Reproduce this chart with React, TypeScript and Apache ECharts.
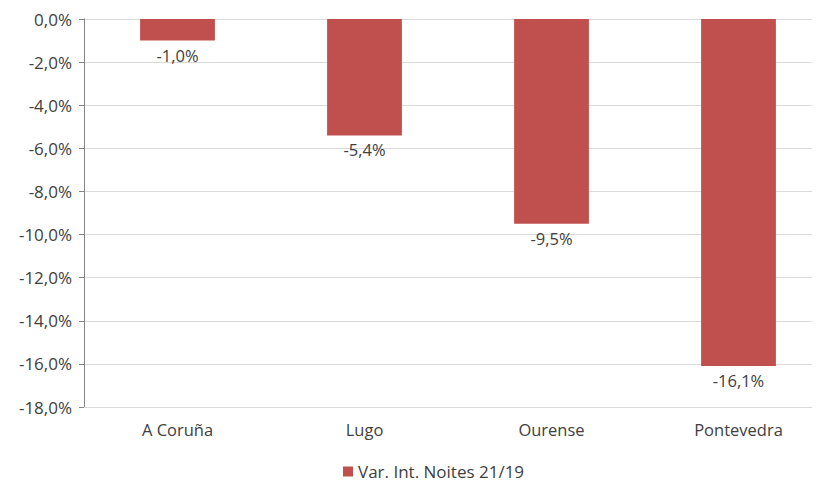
import React, { useEffect, useRef } from "react";
import * as echarts from "echarts";

const categories = ["A Coruña", "Lugo", "Ourense", "Pontevedra"];
const values = [-1.0, -5.4, -9.5, -16.1];
const seriesName = "Var. Int. Noites 21/19";

const fmt = (v: number) => v.toFixed(1).replace(".", ",") + "%";

export default function App() {
  const ref = useRef<HTMLDivElement>(null);
  useEffect(() => {
    if (!ref.current) return;
    const chart = echarts.init(ref.current, undefined, { renderer: "svg" });
    const font = "'Open Sans', 'Liberation Sans', sans-serif";
    chart.setOption({
      animation: false,
      textStyle: { fontFamily: font },
      grid: { left: 76, top: 11, right: 6, bottom: 78, outerBoundsMode: "none" },
      xAxis: {
        type: "category",
        data: categories,
        position: "bottom",
        axisLine: { onZero: false, lineStyle: { color: "#d9d9d9" } },
        axisTick: { show: false },
        axisLabel: { color: "#404040", fontSize: 16.5, margin: 14, fontFamily: font },
      },
      yAxis: {
        type: "value",
        min: -18,
        max: 0,
        interval: 2,
        axisLine: { show: true, lineStyle: { color: "#868686" } },
        axisTick: { show: true, length: 5, lineStyle: { color: "#868686" } },
        splitLine: { lineStyle: { color: "#d9d9d9" } },
        axisLabel: { color: "#404040", fontSize: 17, margin: 12, formatter: (v: number) => fmt(v), fontFamily: font },
      },
      legend: {
        bottom: 0,
        left: 330,
        itemWidth: 10,
        itemHeight: 10,
        itemGap: 6,
        icon: "rect",
        textStyle: { color: "#404040", fontSize: 17, fontFamily: font },
        data: [seriesName],
      },
      series: [
        {
          type: "bar",
          name: seriesName,
          data: values,
          barWidth: "40%",
          itemStyle: { color: "#c0504d" },
          label: {
            show: true,
            position: "bottom",
            distance: 6,
            color: "#404040",
            fontSize: 16.5,
            fontFamily: font,
            formatter: (p: any) => fmt(p.value),
          },
        },
      ],
    });
    return () => chart.dispose();
  }, []);
  return (
    <div style={{ width: 812, height: 477, overflow: "hidden" }}>
      <div ref={ref} style={{ width: 830, height: 477 }} />
    </div>
  );
}
